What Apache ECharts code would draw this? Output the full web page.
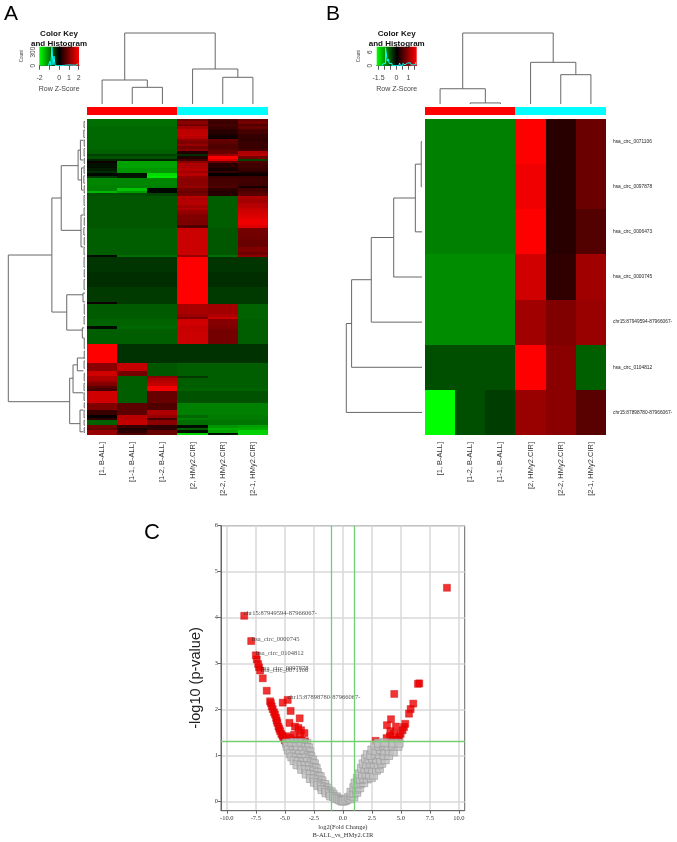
<!DOCTYPE html>
<html><head><meta charset="utf-8">
<style>html,body{margin:0;padding:0;background:#fff}#c{width:677px;height:842px;filter:blur(0.45px)}</style>
<script src="https://cdn.jsdelivr.net/npm/echarts@6/dist/echarts.min.js"></script>
</head><body><div id="c"></div>
<script>
const samplesA = ['[1, B-ALL]','[1-1, B-ALL]','[1-2, B-ALL]','[2, HMy2.CIR]','[2-2, HMy2.CIR]','[2-1, HMy2.CIR]'];
const samplesB = ['[1, B-ALL]','[1-2, B-ALL]','[1-1, B-ALL]','[2, HMy2.CIR]','[2-2, HMy2.CIR]','[2-1, HMy2.CIR]'];
const groupNames = ['B-ALL','HMy2.CIR'];
const circRowsB = ['hsa_circ_0071106','hsa_circ_0097878','hsa_circ_0006473','hsa_circ_0000745','chr15:87949594-87966067-','hsa_circ_0104812','chr15:87898780-87966067-'];
// Heat map A: runs of rows, [row count, six row z-scores]
const heatRunsA = [
[1,-.95,-.95,-.95,.95,.55,.9],[1,-.95,-.95,-.95,1.2,.5,1],[1,-.95,-.95,-.95,1,.6,.7],[1,-.9,-.9,-.9,1.4,.5,.9],
[2,-.9,-.9,-.9,1.65,.35,.6],[1,-.9,-.9,-.9,1.7,.2,.45],[1,-.9,-.9,-.9,1.6,.15,.45],[1,-.88,-.88,-.88,1.2,.9,.4],
[1,-.88,-.88,-.88,1.1,.8,.5],[1,-.88,-.88,-.88,1.3,.7,.5],[1,-.88,-.88,-.88,1,.7,.5],[1,-.85,-.85,-.85,1.2,.8,.6],
[1,-.8,-.8,-.8,.3,.9,1.5],[1,-.55,-.55,-.55,-.4,1.3,1.6],[1,-.7,-.7,-.7,.3,2.2,1],[1,-.3,-.3,-.3,.6,1.9,-.6],
[1,.1,-1.4,-1.4,1.2,.9,.7],[2,-.15,-1.4,-1.4,1.5,.35,.55],[1,-.25,-1.3,-1.3,1.6,.2,.5],[1,-.4,-1.3,-1.3,1.4,.45,.3],
[1,-.05,-.15,-1.9,1.6,0,.1],[1,-.5,-.2,-2,1.3,.5,.5],[3,-1.15,-1.15,-1.15,1.2,.6,.55],[1,-1.1,-1.1,-1.1,1.3,.7,.2],
[1,-1.1,-1.7,-.05,1,.4,.6],[1,-1.6,-1.3,-.05,.9,.3,.7],[1,-.7,-.7,-.6,1,.35,.8],
[1,-.75,-.75,-.75,1.6,-.8,1.5],[1,-.75,-.75,-.75,1.5,-.8,1.45],[1,-.75,-.75,-.75,1.55,-.8,1.4],[1,-.75,-.75,-.75,1.6,-.8,1.55],
[1,-.75,-.75,-.75,1.4,-.8,1.6],[1,-.75,-.75,-.75,1.5,-.8,1.7],[1,-.75,-.75,-.75,1.3,-.8,1.8],[1,-.75,-.75,-.75,1.2,-.8,1.85],
[1,-.75,-.75,-.75,1.1,-.8,1.9],[1,-.75,-.75,-.75,1.1,-.8,2],[1,-.75,-.75,-.75,1.05,-.8,2.05],[1,-.75,-.75,-.75,1.1,-.8,2.05],[1,-.75,-.75,-.75,.7,-.8,1.9],
[3,-.8,-.8,-.8,1.75,-.75,1],[2,-.8,-.8,-.8,1.75,-.75,.95],[3,-.8,-.8,-.8,1.75,-.75,.9],[2,-.8,-.8,-.8,1.75,-.75,1.1],[1,-.8,-.8,-.8,1.75,-.75,.95],
[1,-.1,-.95,-.95,1.3,-.95,1.25],
[6,-.45,-.45,-.45,2.2,-.45,-.45],[6,-.4,-.4,-.4,2.2,-.4,-.4],[6,-.5,-.5,-.5,2.2,-.5,-.5],[1,.1,-.5,-.5,2.2,-.5,-.5],
[4,-.78,-.78,-.78,1.45,1.4,-.85],[1,-.78,-.78,-.78,1.35,1.5,-.85],[1,-.78,-.78,-.78,1.1,1.75,-.85],[3,-.85,-.85,-.85,1.8,1.15,-.8],
[1,-.1,-.9,-.9,1.7,1.1,-.8],[6,-.8,-.8,-.8,1.75,1,-.8],
[8,2.2,-.42,-.42,-.42,-.42,-.42],[3,1.2,1.7,-.75,-.8,-.8,-.8],[2,1.8,1,-.75,-.8,-.8,-.8],
[1,1.5,-.8,1.2,-.5,-.8,-.8],[1,1.5,-.8,1.5,-.8,-.8,-.8],[1,1.3,-.8,1.6,-.8,-.8,-.8],[1,1.1,-.8,1.7,-.8,-.8,-.8],[1,.8,-.8,2.1,-.8,-.8,-.8],[1,.6,-.8,2.1,-.85,-.85,-.85],
[5,1.8,-.8,.9,-.7,-.7,-.7],[3,1.1,.8,.7,-1.1,-1.1,-1.1],[2,.5,.8,1.5,-1.1,-1.1,-1.1],[1,.05,1.6,1.3,-.9,-1.05,-1.05],[1,.4,1.6,.6,-1.1,-1.05,-1.05],
[2,-.85,1.7,1.2,-.95,-1,-1],[1,1,.5,.4,-.1,-1.3,-1.4],[1,.9,.3,.4,-.8,-1.5,-1.5],[1,1.3,.4,.9,-.1,-1.4,-1.8],[1,1.3,.7,.9,-1.8,-.15,-1.8]
];
// Heat map B: seven rows of six z-scores
const heatRowsB = [
[-.88,-.88,-.88,1.75,.28,.73],
[-.88,-.88,-.88,1.65,.28,.73],
[-.88,-.88,-.88,1.75,.28,.56],
[-.96,-.96,-.96,1.43,.33,1.1],
[-.96,-.96,-.96,1.1,.88,1.05],
[-.54,-.54,-.54,1.75,.95,-.66],
[-1.75,-.54,-.42,1.05,.95,.61]
];
// Dendrograms: [merge height, position 1, height 1, position 2, height 2]
const topTreeA = [[.235,1.5,0,2.5,0],[.338,.5,0,2,.235],[.376,4.5,0,5.5,0],[.493,3.5,0,5,.376],[1,1.25,.338,4.25,.493]];
const topTreeB = [[.015,1.5,0,2.5,0],[.215,.5,0,2,.015],[.413,4.5,0,5.5,0],[.587,3.5,0,5,.413],[1,1.25,.215,4.25,.587]];
const sideTreeB = [[.01,.5,0,1.5,0],[.088,1,.01,2.5,0],[.374,1.75,.088,3.5,0],[.67,2.625,.374,4.5,0],[.93,3.56,.67,5.5,0],[1,4.53,.93,6.5,0]];
const sideTreeA = [
[1,55.1,.432,114.5,.2],[.432,32,.31,78.2,.238],[.2,105,.156,123.4,.065],[.31,18.9,.09,45.1,.052],[.238,71.2,.026,85.5,.035],
[.156,99.6,.1,110.9,.02],[.1,96.8,.01,102,.02],[.09,12.6,.06,24.7,.045],[.06,8.6,.02,16.6,.02],[.045,19.8,.02,28.8,.02],
[.052,38.9,.02,51.8,.02],[.026,70.5,0,74.1,0],[.035,84.6,.01,88.7,.01],[.065,117.9,.02,126.7,.02],
[.012,1,0,3.5,0],[.015,4.5,0,7.5,0],[.01,8.5,0,11,0],[.012,12,0,15,0],[.01,16,0,18,0],[.012,19,0,22,0],[.015,23,0,26,0],[.01,27,0,30,0],
[.012,31,0,35,0],[.012,36,0,39,0],[.01,40,0,43,0],[.015,44,0,47,0],[.01,48,0,51,0],[.012,52,0,55,0],[.012,56,0,60,0],[.01,61,0,64,0],
[.012,65,0,69,0],[.01,75,0,79,0],[.012,80,0,83,0],[.01,89,0,93,0],[.01,94,0,97,0],[.012,98,0,101,0],[.01,103,0,106,0],[.012,107,0,110,0],
[.012,111,0,114,0],[.01,115,0,117,0],[.012,118,0,121,0],[.012,122,0,124,0],[.01,125,0,127,0]
];
// Colour-key histograms: [z, count]
const histA = [[-1.1,0],[-1,8],[-.9,100],[-.8,12],[-.68,410],[-.58,20],[-.47,210],[-.37,10],[-.2,0],[.2,0],[.4,8],[.7,14],[.9,18],[1.1,16],[1.3,14],[1.5,18],[1.7,10],[1.9,30],[2,45]];
const histB = [[-1.2,0],[-1,1],[-.83,8],[-.72,2],[-.66,3],[-.55,1],[-.45,1],[-.3,0],[.2,0],[.3,1.2],[.4,0],[.65,1],[.75,.4],[.85,1.2],[1,.5],[1.15,1.3],[1.3,.4],[1.5,.5],[1.65,1.4]];
const keyTicksA = [-2,-1,0,1,2];
const keyLabelsA = [-2,0,1,2];
const keyTicksB = [-1.5,-1,-.5,0,.5,1,1.5];
const keyLabelsB = [-1.5,0,1];
// Volcano plot: [log2 fold change, -log10 p]
const volcanoGrey = [
[-4.85,1.27],[-4.55,1.27],[-4.2,1.28],[-3.9,1.27],[-3.5,1.28],[-3.1,1.26],[-4.8,1.2],[-4.4,1.2],[-4,1.19],[-3.6,1.2],[-3.2,1.18],[-2.95,1.17],
[-4.7,1.12],[-4.3,1.1],[-3.9,1.12],[-3.5,1.1],[-3.1,1.1],[-2.85,1.08],[-4.55,1.04],[-4.15,1.03],[-3.75,1.02],[-3.35,1.03],[-2.95,1],[-2.75,.98],
[-4.4,.97],[-4,.95],[-3.6,.94],[-3.2,.95],[-2.85,.92],[-2.6,.9],[-4.2,.89],[-3.85,.87],[-3.45,.86],[-3.05,.87],[-2.7,.84],[-2.45,.82],
[-3.95,.8],[-3.6,.78],[-3.25,.78],[-2.9,.77],[-2.5,.74],[-2.3,.72],[-3.55,.7],[-3.2,.69],[-2.85,.68],[-2.5,.66],[-2.2,.63],
[-3.15,.6],[-2.8,.59],[-2.45,.57],[-2.1,.55],[-1.95,.54],[-2.8,.5],[-2.5,.49],[-2.15,.47],[-1.8,.45],[-2.45,.42],[-2.15,.4],[-1.85,.38],[-1.55,.37],
[-2.15,.35],[-1.85,.32],[-1.55,.31],[-1.3,.29],[-1.8,.26],[-1.5,.24],[-1.2,.23],[-1,.21],[-1.45,.19],[-1.15,.17],[-.85,.16],
[-1.05,.12],[-.8,.11],[-.55,.1],[-.65,.07],[-.45,.06],[-.3,.04],[-.15,.02],[-.05,.01],
[.05,.01],[.2,.02],[.35,.05],[.5,.09],[.65,.06],[.75,.13],[.95,.1],[.7,.2],[.95,.18],[1.2,.2],[.95,.3],[1.2,.27],[1.45,.3],
[1.05,.4],[1.3,.38],[1.55,.4],[1.8,.41],[1.25,.5],[1.5,.48],[1.8,.5],[2.1,.49],[2.45,.52],[1.4,.6],[1.7,.58],[2,.6],[2.3,.58],[2.65,.57],
[1.6,.72],[1.9,.7],[2.2,.72],[2.55,.7],[2.9,.68],[3.15,.72],[1.75,.82],[2.05,.8],[2.35,.83],[2.7,.81],[3.05,.8],[3.35,.83],
[1.95,.93],[2.25,.91],[2.55,.94],[2.9,.92],[3.25,.9],[3.65,.91],[2.1,1.02],[2.4,1],[2.8,1.03],[3.15,1.02],[3.55,1],[3.95,1],
[2.5,1.12],[2.85,1.1],[3.25,1.13],[3.6,1.1],[4,1.1],[4.35,1.08],[2.75,1.22],[3.1,1.2],[3.5,1.22],[3.9,1.2],[4.3,1.21],[4.75,1.2],
[3.05,1.27],[3.6,1.28],[4.3,1.27],[4.85,1.27]
];
const volcanoRed = [
[-7.42,3.09],[-7.3,2.99],[-6.9,2.68],[-6.56,2.41],[-6.27,2.18],[-6.2,2.14],[-6.13,2.07],[-6.04,2.01],[-5.93,1.94],[-5.84,1.89],[-5.75,1.82],[-5.7,1.76],
[-5.64,1.71],[-5.55,1.63],[-5.47,1.58],[-5.4,1.53],[-5.3,1.47],[-5.2,1.43],[-5.12,1.38],[-5,1.33],[-4.92,1.31],
[-5.18,2.15],[-4.5,1.97],[-3.72,1.81],[-4.6,1.71],[-4.12,1.63],[-3.83,1.6],[-3.6,1.55],[-3.31,1.49],[-4.2,1.45],[-3.69,1.42],[-4.83,1.42],[-4.55,1.38],
[-3.26,1.31],[-3.54,1.33],[-3.97,1.33],
[8.97,4.65],[6.59,2.57],[6.47,2.56],[4.43,2.34],[6.07,2.13],[5.84,2.01],[5.7,1.91],[4.15,1.79],[5.38,1.69],[5.27,1.62],[5.15,1.55],[4.98,1.47],
[4.86,1.4],[4.69,1.34],[3.8,1.66],[4.58,1.63],[4.09,1.53],[4.4,1.47],[3.77,1.38],[4.06,1.42],[2.83,1.32],[4.35,1.34],[4.78,1.31]
];
const labelledNames = ['chr15:87949594-87966067-','hsa_circ_0000745','hsa_circ_0104812','hsa_circ_0071106','hsa_circ_0097878','chr15:87898780-87966067-'];
const labelledPoints = [[-8.5,4.04],[-7.9,3.49],[-7.5,3.18],[-7.22,2.92],[-7.13,2.85],[-4.75,2.21]];
const xTicksC = [-10,-7.5,-5,-2.5,0,2.5,5,7.5,10];
const yTicksC = [0,1,2,3,4,5,6];
const cutoffsX = [-1,1];
const cutoffY = 1.3;

const SANS='"Liberation Sans",Arial,sans-serif', SERIF='"Liberation Serif","Times New Roman",serif';
const labelNudge = [[0,-2],[1,-2],[0.5,-2],[2,3],[1,-1.5],[0,-2]];
const expand = runs => runs.flatMap(([n,...v]) => Array.from({length:n},()=>v));
const cells = rows => rows.flatMap((r,y)=>r.map((z,x)=>[x,y,z]));
const rowsA = expand(heatRunsA);

const gridBox = (left,top,w,h,extra)=>Object.assign({left,top,width:w,height:h,containLabel:false},extra||{});
const grid = [
 gridBox(87,119,181,316), gridBox(425,119,181,316),
 gridBox(87,107,181,8), gridBox(425,107,181,8),
 gridBox(87,33,181,71), gridBox(425,33,181,71),
 gridBox(8.3,119,76.7,316), gridBox(346.3,119,75.7,316),
 gridBox(39.3,46.7,39.7,19), gridBox(376.7,46.7,40,19),
 gridBox(221,525.7,243.7,285,{show:true,borderColor:'#666',borderWidth:1,backgroundColor:'transparent'})
];
const hide=(o)=>Object.assign({show:false},o);
const catX=(gi,names)=>({type:'category',gridIndex:gi,data:names,axisLine:{show:false},axisTick:{show:false},splitLine:{show:false},
  axisLabel:{rotate:90,interval:0,fontSize:7.5,margin:7,color:'#333',fontFamily:SANS,padding:[0,0,4,0]}});
const keyX=(gi,min,max,ticks,labels)=>({type:'value',gridIndex:gi,min,max,position:'bottom',splitLine:{show:false},
  axisLine:{onZero:false,lineStyle:{color:'#555',width:1}},
  axisTick:{length:4,lineStyle:{color:'#555'},customValues:ticks},
  axisLabel:{customValues:labels,fontSize:7,margin:9,color:'#444',fontFamily:SANS,hideOverlap:false,showMinLabel:true,showMaxLabel:true},
  name:'Row Z-Score',nameLocation:'middle',nameGap:20,nameTextStyle:{fontSize:7,color:'#444',fontFamily:SANS}});
const keyY=(gi,max,ticks,labels)=>({type:'value',gridIndex:gi,min:0,max,splitLine:{show:false},
  axisLine:{lineStyle:{color:'#555',width:1}},
  axisTick:{length:4,lineStyle:{color:'#555'},customValues:ticks},
  axisLabel:{customValues:labels,rotate:90,fontSize:6.5,margin:3,color:'#444',fontFamily:SANS},
  name:'Count',nameLocation:'middle',nameGap:15,nameTextStyle:{fontSize:4.5,color:'#444',fontFamily:SANS}});
const unit=(gi,o)=>hide(Object.assign({type:'value',gridIndex:gi},o));

const xAxis = [
 catX(0,samplesA), catX(1,samplesB),
 hide({type:'category',gridIndex:2,data:groupNames}), hide({type:'category',gridIndex:3,data:groupNames}),
 unit(4,{min:0,max:6}), unit(5,{min:0,max:6}),
 unit(6,{min:0,max:1,inverse:true}), unit(7,{min:0,max:1,inverse:true}),
 keyX(8,-2.03,2.03,keyTicksA,keyLabelsA), keyX(9,-1.65,1.68,keyTicksB,keyLabelsB),
 {type:'value',gridIndex:10,min:-10.5,max:10.5,splitLine:{show:true,lineStyle:{color:'#d9d9d9',width:1.5}},
  axisLine:{onZero:false,lineStyle:{color:'#666'}},axisTick:{length:3,lineStyle:{color:'#666'},customValues:xTicksC},
  axisLabel:{customValues:xTicksC,formatter:v=>v.toFixed(1),fontSize:6.5,margin:4,color:'#333',fontFamily:SERIF},
  name:'log2(Fold Change)\nB-ALL_vs_HMy2.CIR',nameLocation:'middle',nameGap:13,
  nameTextStyle:{fontSize:6.5,lineHeight:7.5,color:'#333',fontFamily:SERIF,verticalAlign:'top'}}
];
const yAxis = [
 hide({type:'category',gridIndex:0,inverse:true,data:rowsA.map((r,i)=>String(i+1))}),
 {type:'category',gridIndex:1,inverse:true,position:'right',data:circRowsB,axisLine:{show:false},axisTick:{show:false},splitLine:{show:false},
  axisLabel:{interval:0,fontSize:4.8,margin:7,color:'#222',fontFamily:SANS}},
 unit(2,{min:0,max:1}), unit(3,{min:0,max:1}),
 unit(4,{min:0,max:1}), unit(5,{min:0,max:1}),
 unit(6,{min:0,max:128,inverse:true}), unit(7,{min:0,max:7,inverse:true}),
 keyY(8,420,[0,100,200,300,400],[0,300]), keyY(9,8.5,[0,2,4,6,8],[0,6]),
 {type:'value',gridIndex:10,min:-0.2,max:6,splitLine:{show:true,lineStyle:{color:'#d9d9d9',width:1.5}},
  axisLine:{onZero:false,lineStyle:{color:'#666'}},axisTick:{length:3,lineStyle:{color:'#666'},customValues:yTicksC},
  axisLabel:{customValues:yTicksC,fontSize:6.5,margin:3,color:'#333',fontFamily:SERIF}}
];
// Cells snap to whole pixels so neighbouring cells of equal colour show no seam
const heat=(i,rows)=>({type:'custom',xAxisIndex:i,yAxisIndex:i,data:cells(rows),silent:true,clip:false,encode:{x:0,y:1},
  renderItem:(p,api)=>{
    const c=api.coord([api.value(0),api.value(1)]),s=api.size([1,1]);
    const x0=Math.round(c[0]-s[0]/2),x1=Math.round(c[0]+s[0]/2),y0=Math.round(c[1]-s[1]/2),y1=Math.round(c[1]+s[1]/2);
    return {type:'rect',shape:{x:x0,y:y0,width:x1-x0,height:y1-y0},style:{fill:api.visual('color')}};
  }});
const bars=(i)=>({type:'bar',xAxisIndex:i,yAxisIndex:i,barWidth:'100%',silent:true,
  data:[{value:1,itemStyle:{color:'#ff0000'}},{value:1,itemStyle:{color:'#00ffff'}}]});
// vertical=true: positions run along x, heights up y; otherwise heights along x
const tree=(i,data,vertical)=>({type:'custom',xAxisIndex:i,yAxisIndex:i,data,silent:true,clip:false,
  renderItem:(p,api)=>{
    const h=api.value(0),a=api.value(1),ha=api.value(2),b=api.value(3),hb=api.value(4);
    const pt=(pos,ht)=>api.coord(vertical?[pos,ht]:[ht,pos]);
    return {type:'polyline',shape:{points:[pt(a,ha),pt(a,h),pt(b,h),pt(b,hb)]},style:{stroke:'#686868',lineWidth:1,fill:null}};
  }});
const ramp=(i,lo,hi,top)=>({type:'custom',xAxisIndex:i,yAxisIndex:i,data:[[lo,hi,top]],silent:true,clip:false,z:1,
  renderItem:(p,api)=>{
    const a=api.coord([api.value(0),api.value(2)]),b=api.coord([api.value(1),0]);
    return {type:'rect',shape:{x:a[0],y:a[1],width:b[0]-a[0],height:b[1]-a[1]},
      style:{fill:new echarts.graphic.LinearGradient(0,0,1,0,[{offset:0,color:'#00ff00'},{offset:.5,color:'#000'},{offset:1,color:'#ff0000'}])}};
  }});
const hist=(i,data)=>({type:'line',xAxisIndex:i,yAxisIndex:i,data,step:'middle',symbol:'none',silent:true,z:3,lineStyle:{color:'#00ffff',width:1}});
const redStyle={color:'#ee0000',borderColor:'#cc0000',borderWidth:.5};
const volcano=(data,style,size,extra)=>Object.assign({type:'scatter',xAxisIndex:10,yAxisIndex:10,data,symbol:'rect',symbolSize:size,itemStyle:style,silent:true,animation:false},extra||{});

const series=[
 heat(0,rowsA), heat(1,heatRowsB),
 bars(2), bars(3),
 tree(4,topTreeA,true), tree(5,topTreeB,true),
 tree(6,sideTreeA,false), tree(7,sideTreeB,false),
 ramp(8,-2.03,2.03,420), ramp(9,-1.65,1.68,8.5),
 hist(8,histA), hist(9,histB),
 volcano(volcanoRed,redStyle,7,{z:3}),
 volcano(labelledPoints.map((pt,i)=>({value:pt,label:{show:true,formatter:labelledNames[i],position:[labelNudge[i][0]+3.5,labelNudge[i][1]],
   fontSize:6.5,color:'#222',fontFamily:SERIF}})),redStyle,7,{z:3}),
 volcano(volcanoGrey,{color:'#c2c2c2',borderColor:'#9a9a9a',borderWidth:.8},8,{z:4}),
 {type:'line',xAxisIndex:10,yAxisIndex:10,data:[],silent:true,z:6,
  markLine:{silent:true,symbol:'none',animation:false,label:{show:false},lineStyle:{color:'#72d072',width:1.3,type:'solid'},
   data:[...cutoffsX.map(v=>({xAxis:v})),{yAxis:cutoffY}]}}
];
const heading=(text,x,y,size,weight)=>({text,left:x,top:y,textAlign:'center',padding:0,
  textStyle:{fontSize:size,fontWeight:weight||'normal',color:'#111',fontFamily:SANS,lineHeight:size}});
const title=[
 {text:'A',left:4,top:4,padding:0,textStyle:{fontSize:21,fontWeight:'normal',color:'#000',fontFamily:SANS,lineHeight:21}},
 {text:'B',left:326,top:4,padding:0,textStyle:{fontSize:21,fontWeight:'normal',color:'#000',fontFamily:SANS,lineHeight:21}},
 {text:'C',left:144,top:522,padding:0,textStyle:{fontSize:22,fontWeight:'normal',color:'#000',fontFamily:SANS,lineHeight:22}},
 heading('Color Key',59,30,8,'bold'),heading('and Histogram',59,40,8,'bold'),
 heading('Color Key',396.7,30,8,'bold'),heading('and Histogram',396.7,40,8,'bold')
];
const chart=echarts.init(document.getElementById('c'));
chart.setOption({animation:false,backgroundColor:'#fff',title,grid,xAxis,yAxis,series,
 visualMap:[
  {show:false,type:'continuous',seriesIndex:0,dimension:2,min:-2.2,max:2.2,inRange:{color:['#00ff00','#000000','#ff0000']}},
  {show:false,type:'continuous',seriesIndex:1,dimension:2,min:-1.75,max:1.75,inRange:{color:['#00ff00','#000000','#ff0000']}}
 ],
 graphic:[{type:'text',x:196,y:678,rotation:Math.PI/2,silent:true,z:10,
  style:{text:'-log10 (p-value)',fontSize:14.5,fontFamily:SANS,fill:'#222',textAlign:'center',textVerticalAlign:'middle'}}]
});
</script></body></html>
